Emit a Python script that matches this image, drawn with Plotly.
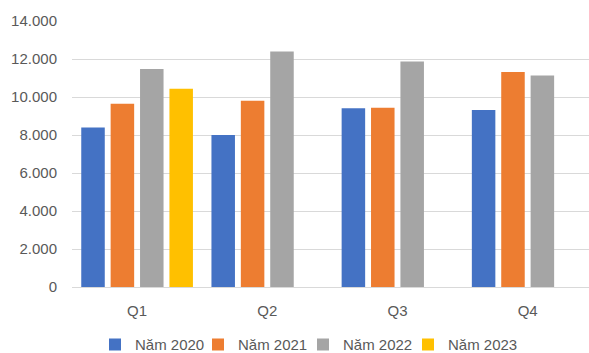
import plotly.graph_objects as go

categories = ["Q1", "Q2", "Q3", "Q4"]
series_names = ["Năm 2020", "Năm 2021", "Năm 2022", "Năm 2023"]
v2020 = [8400, 8000, 9410, 9310]
v2021 = [9650, 9800, 9440, 11320]
v2022 = [11480, 12390, 11870, 11130]
v2023 = [10430, None, None, None]
colors = ["#4472C4", "#ED7D31", "#A5A5A5", "#FFC000"]
y_ticks = [0, 2000, 4000, 6000, 8000, 10000, 12000, 14000]

legend_ids = ["legend", "legend2", "legend3", "legend4"]
legend_left_px = [95, 198, 303, 408]

fig = go.Figure()
for name, vals, c, lg in zip(series_names, [v2020, v2021, v2022, v2023], colors, legend_ids):
    fig.add_trace(go.Bar(x=categories, y=vals, name=name, legend=lg,
                         marker=dict(color=c, line=dict(width=0))))

font_fam = "Liberation Sans, Arial, sans-serif"
plot_l, plot_w = 72, 517
legends = {}
for lg, px in zip(legend_ids, legend_left_px):
    legends[lg] = dict(orientation="h", x=(px - plot_l) / plot_w, xanchor="left",
                       y=-0.217, yanchor="middle", bgcolor="rgba(0,0,0,0)",
                       font=dict(size=15, color="#595959"), itemwidth=30)

fig.update_layout(
    width=589, height=353,
    margin=dict(l=plot_l, r=0, t=21, b=66, autoexpand=False),
    paper_bgcolor="white", plot_bgcolor="white",
    barmode="group", bargap=0.097, bargroupgap=0.2,
    separators=",.",
    font=dict(family=font_fam, size=15, color="#595959"),
    showlegend=True,
    xaxis=dict(range=[-0.5, 3.471], showgrid=False, showline=True, linecolor="#d9d9d9",
               linewidth=1, ticks="", ticklabelstandoff=10, automargin=False,
               tickfont=dict(size=15, color="#595959")),
    yaxis=dict(range=[0, 14000], tickvals=y_ticks, tickformat=",d", showgrid=True,
               gridcolor="#d9d9d9", gridwidth=1, zeroline=False, showline=False, ticks="",
               ticklabelstandoff=14, automargin=False, tickfont=dict(size=15, color="#595959")),
    **legends,
)

fig.write_html("out.html")
